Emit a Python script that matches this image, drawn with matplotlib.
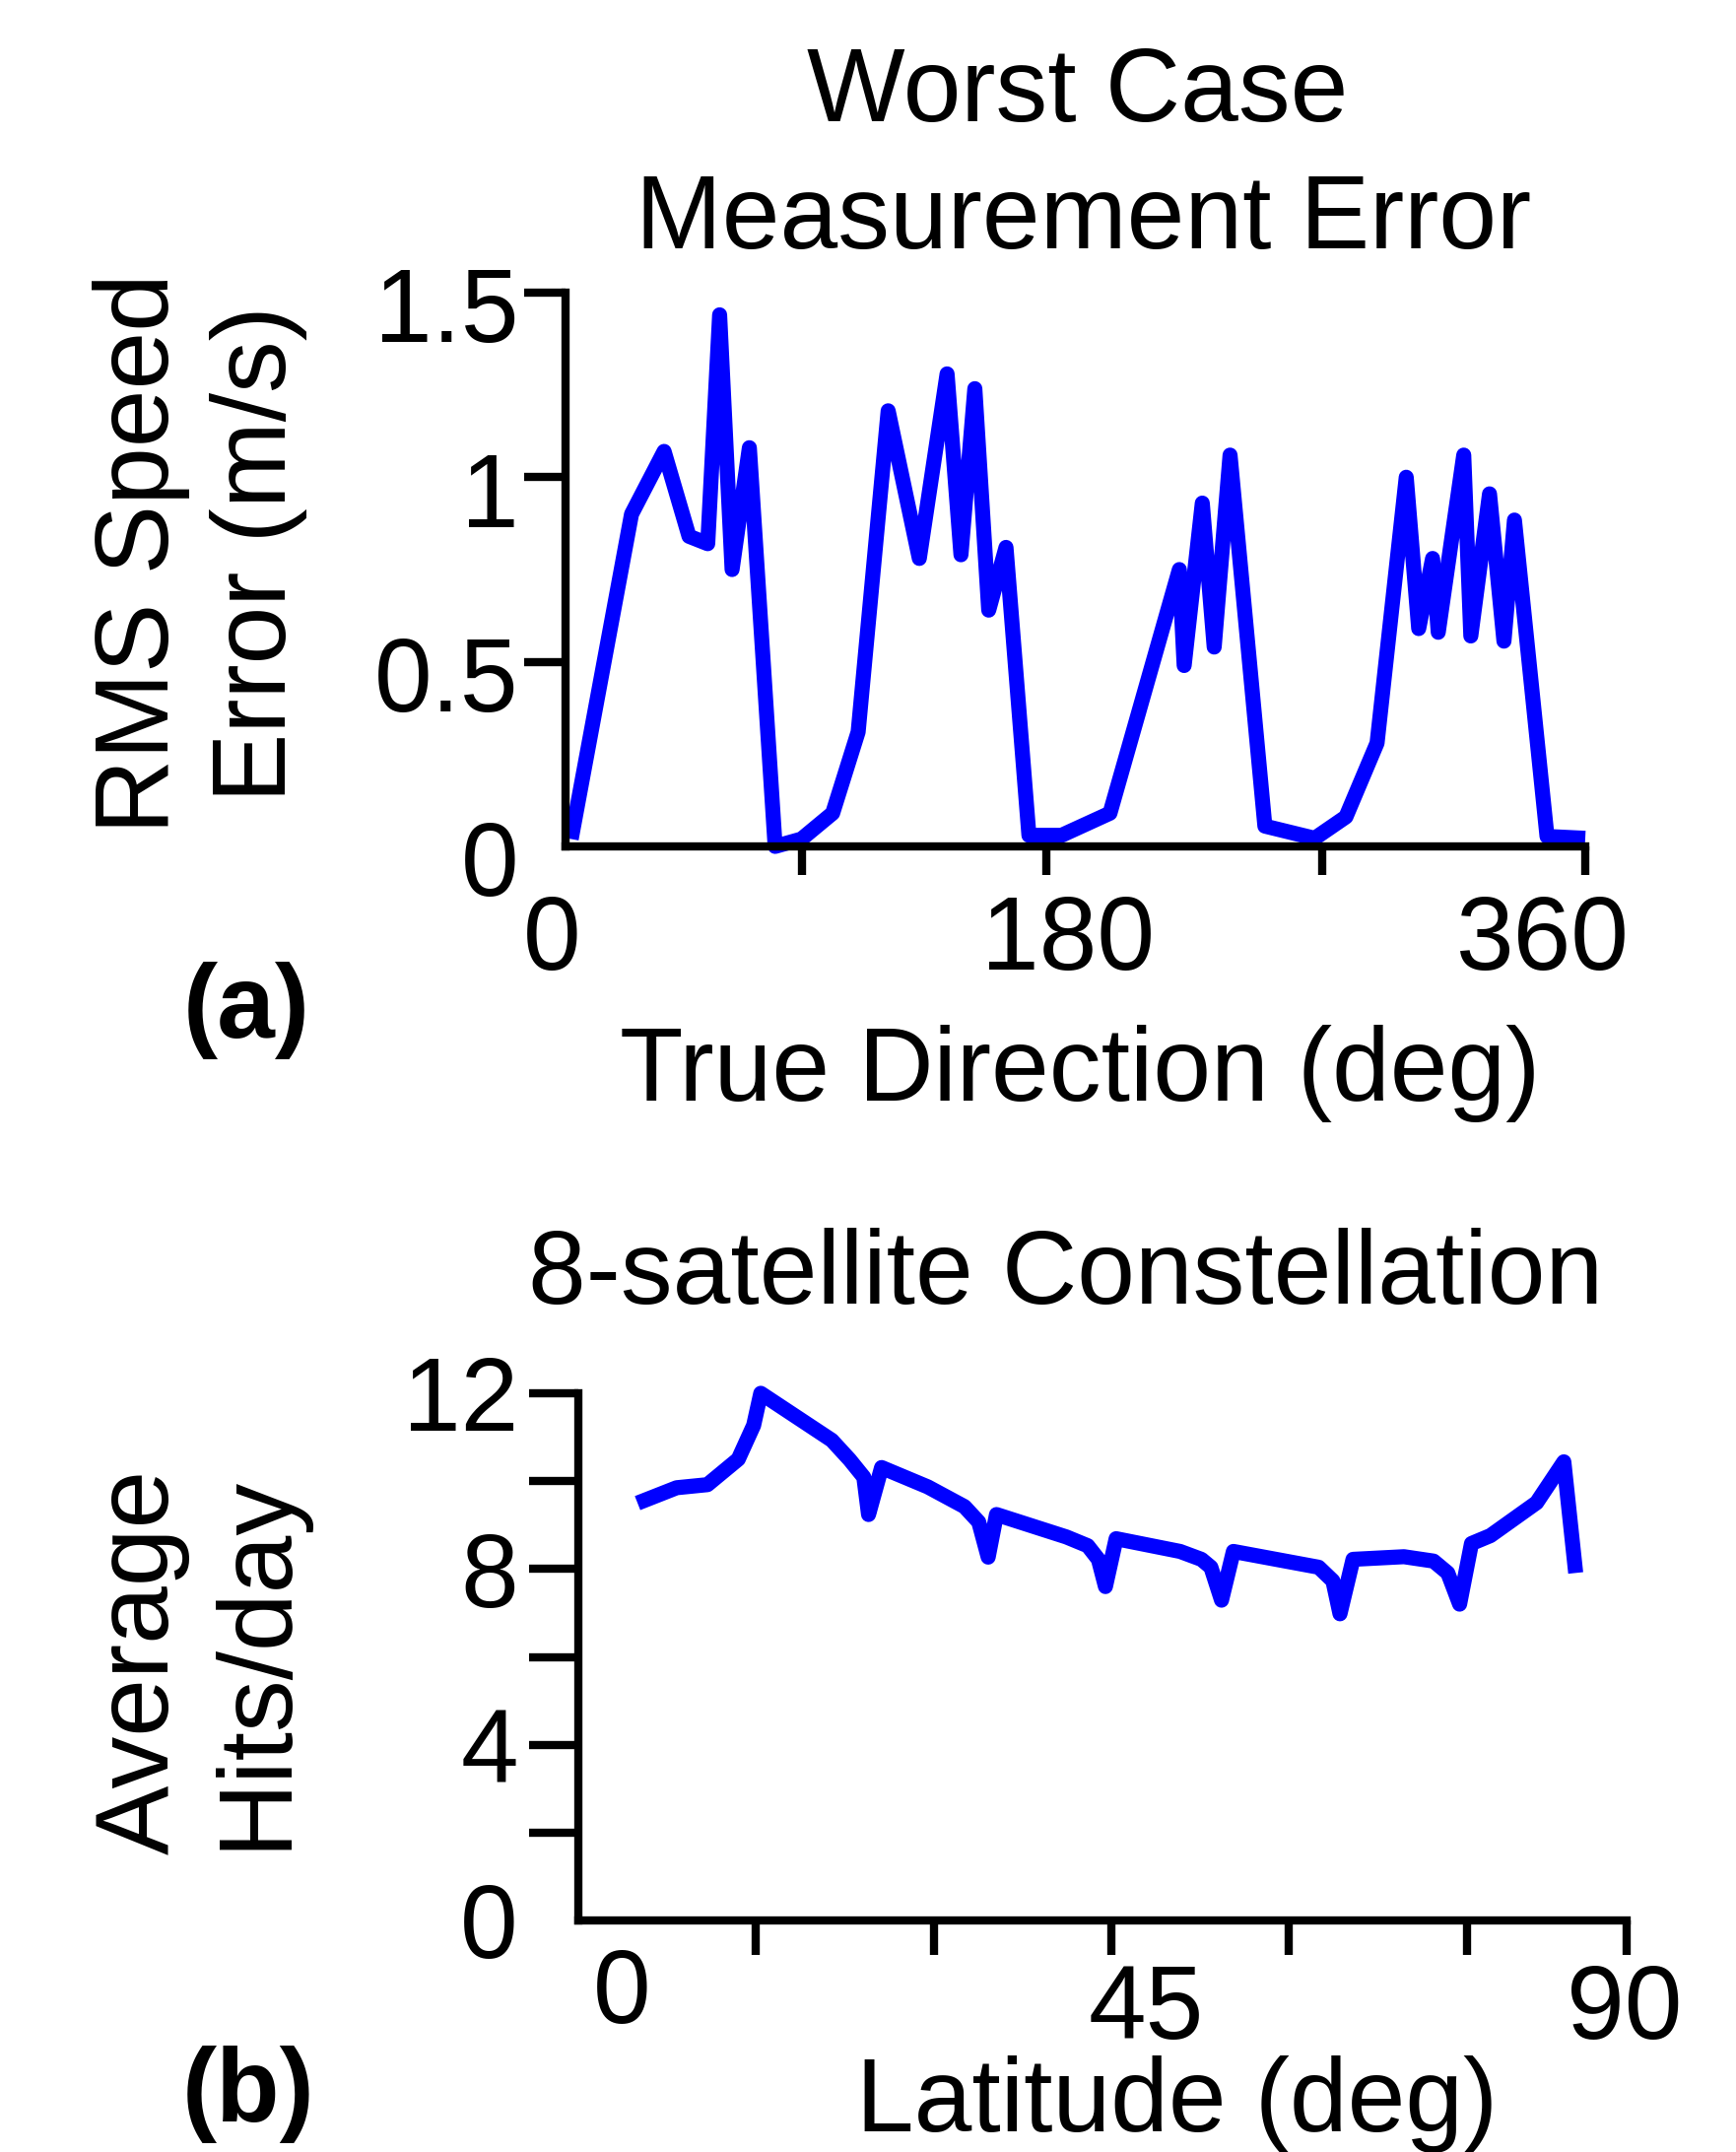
import matplotlib
matplotlib.use("Agg")
import matplotlib.pyplot as plt
import matplotlib.transforms as mtransforms

# ---- data ----
direction = [2, 23.3, 34.8, 43.6, 50.2, 54.4, 58.8, 64.9, 74.0, 83.3, 94.3, 103.3,
             113.9, 124.9, 134.7, 139.6, 144.5, 149.4, 155.5, 163.6, 175.1, 192.2,
             216.7, 218.4, 224.8, 229.0, 234.6, 246.9, 264.5, 275.5, 286.5, 296.8,
             301.2, 306.1, 308.1, 317.1, 319.6, 326.2, 331.3, 335.0, 346.5, 360]
rms_error = [0.02, 0.90, 1.07, 0.84, 0.82, 1.44, 0.75, 1.08, 0.0, 0.02, 0.09, 0.31,
             1.18, 0.78, 1.28, 0.79, 1.24, 0.64, 0.81, 0.03, 0.03, 0.09,
             0.75, 0.49, 0.93, 0.54, 1.06, 0.055, 0.022, 0.08, 0.28, 1.0,
             0.59, 0.78, 0.58, 1.06, 0.57, 0.955, 0.556, 0.884, 0.027, 0.022]

latitude = [5.0, 8.3, 10.9, 13.5, 14.8, 15.4, 21.4, 22.9, 24.1, 24.5, 25.6, 29.5,
            32.6, 33.8, 34.6, 35.3, 41.2, 43.0, 43.9, 44.5, 45.4, 50.8, 52.6, 53.4,
            54.3, 55.3, 60.7, 62.5, 63.7, 64.3, 65.4, 69.7, 72.2, 73.4, 74.4, 75.4,
            77.0, 80.9, 83.2, 84.2]
hits = [9.5, 9.85, 9.92, 10.5, 11.27, 12.0, 10.93, 10.49, 10.09, 9.24, 10.31, 9.87,
        9.42, 9.07, 8.27, 9.24, 8.73, 8.53, 8.22, 7.6, 8.69, 8.4, 8.22, 8.04,
        7.29, 8.4, 8.13, 8.04, 7.73, 6.98, 8.22, 8.28, 8.18, 7.91, 7.2, 8.58,
        8.76, 9.51, 10.44, 7.91]

dir_ticks = [83.6, 169.7, 267.3, 360]
dir_label_pos = [-4.9, 177.3, 345]
dir_labels = ["0", "180", "360"]
rms_ticks = [0, 0.5, 1, 1.5]
rms_labels = ["0", "0.5", "1", "1.5"]

lat_ticks = [15, 30, 45, 60, 75, 88.5]
lat_label_pos = [3.7, 47.9, 88.3]
lat_labels = ["0", "45", "90"]
hits_ticks = [0, 2, 4, 6, 8, 10, 12]
hits_labels = ["0", "", "4", "", "8", "", "12"]

# ---- style ----
W, H, DPI = 1762, 2184, 100
FS = 76
LW_AX = 6
LW_LINE = 11
BLUE = "#0000ff"
plt.rcParams["font.family"] = ["Liberation Sans", "DejaVu Sans"]
plt.rcParams["font.size"] = FS

fig = plt.figure(figsize=(W / DPI, H / DPI), dpi=DPI)


def box(x0, y0, x1, y1):
    # pixel box (top-down) -> figure fraction rect
    return [x0 / W, 1 - y1 / H, (x1 - x0) / W, (y1 - y0) / H]


def style_axes(ax):
    for s in ["top", "right"]:
        ax.spines[s].set_visible(False)
    for s in ["left", "bottom"]:
        ax.spines[s].set_linewidth(LW_AX)


# ---------------- (a) ----------------
ax1 = fig.add_axes(box(574, 297, 1609, 859))
ax1.plot(direction, rms_error, color=BLUE, lw=LW_LINE, solid_joinstyle="round",
         solid_capstyle="butt", clip_on=False)
ax1.set_xlim(0, 360)
ax1.set_ylim(0, 1.5)
style_axes(ax1)
ax1.set_xticks(dir_ticks)
ax1.set_xticklabels([])
ax1.tick_params(axis="x", direction="out", length=21, width=LW_AX)
ax1.set_yticks(rms_ticks)
ax1.set_yticklabels(rms_labels)
ax1.tick_params(axis="y", direction="out", length=30, width=LW_AX, pad=4, labelsize=FS)
ax1.yaxis.get_major_ticks()[0].tick1line.set_visible(False)
shift = mtransforms.ScaledTranslation(0, -12 / DPI, fig.dpi_scale_trans)
for lab in ax1.get_yticklabels():
    lab.set_transform(lab.get_transform() + shift)
for pos, txt in zip(dir_label_pos, dir_labels):
    ax1.annotate(txt, xy=(pos, 0), xycoords=("data", "axes fraction"),
                 xytext=(0, -98), textcoords="offset pixels",
                 ha="center", va="center", fontsize=FS, annotation_clip=False)

ax1.set_xlabel("True Direction (deg)", fontsize=FS, va="baseline")
ax1.xaxis.set_label_coords((1096 - 574) / 1035, (859 - 1117) / 562)
ax1.set_ylabel("RMS Speed\nError (m/s)", fontsize=FS, ha="center", va="center",
               linespacing=1.25)
ax1.yaxis.set_label_coords((203 - 574) / 1035, (859 - 562) / 562)

fig.text(1094 / W, 1 - 123 / H, "Worst Case", ha="center", va="baseline", fontsize=FS)
fig.text(1100 / W, 1 - 252 / H, "Measurement Error", ha="center", va="baseline", fontsize=FS)
fig.text(250 / W, 1 - 1053 / H, "(a)", ha="center", va="baseline", fontsize=FS,
         fontweight="bold")

# ---------------- (b) ----------------
ax2 = fig.add_axes(box(587, 1414, 1651, 1949))
ax2.plot(latitude, hits, color=BLUE, lw=LW_LINE, solid_joinstyle="round",
         solid_capstyle="butt", clip_on=False)
ax2.set_xlim(0, 88.5)
ax2.set_ylim(0, 12)
style_axes(ax2)
ax2.set_xticks(lat_ticks)
ax2.set_xticklabels([])
ax2.tick_params(axis="x", direction="out", length=25, width=LW_AX)
ax2.set_yticks(hits_ticks)
ax2.set_yticklabels(hits_labels)
ax2.tick_params(axis="y", direction="out", length=36, width=LW_AX, pad=8, labelsize=FS)
ax2.yaxis.get_major_ticks()[0].tick1line.set_visible(False)
lat_offsets = [-76, -92, -92]
for pos, txt, off in zip(lat_label_pos, lat_labels, lat_offsets):
    ax2.annotate(txt, xy=(pos, 0), xycoords=("data", "axes fraction"),
                 xytext=(0, off), textcoords="offset pixels",
                 ha="center", va="center", fontsize=FS, annotation_clip=False)

ax2.set_xlabel("Latitude (deg)", fontsize=FS, va="baseline")
ax2.xaxis.set_label_coords((1195 - 587) / 1064, (1949 - 2163) / 535)
ax2.set_ylabel("Average\nHits/day", fontsize=FS, ha="center", va="center",
               linespacing=1.25)
ax2.yaxis.set_label_coords((202 - 587) / 1064, (1949 - 1686) / 535)
ax2.text((1082 - 587) / 1064, (1949 - 1295) / 535, "8-satellite Constellation",
         transform=ax2.transAxes, ha="center", va="center", fontsize=FS)
fig.text(252 / W, 1 - 2153 / H, "(b)", ha="center", va="baseline", fontsize=FS,
         fontweight="bold")

fig.savefig("out.png", dpi=DPI)
